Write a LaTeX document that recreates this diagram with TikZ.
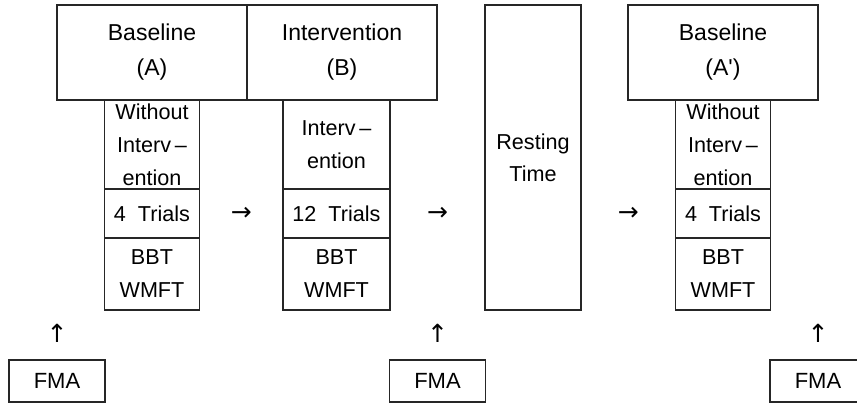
\documentclass[tikz,border=0pt]{standalone}
\usepackage{fontspec}
\setmainfont{Liberation Sans}
\newfontfamily\arrowfont{DejaVu Sans}
\usetikzlibrary{positioning,calc}

\begin{document}
\begin{tikzpicture}[
  x=0.5pt, y=-0.5pt,
  node distance=0pt,
  box/.style={draw=black!85, line width=0.65pt, inner sep=0pt,
    outer sep=0pt, align=center},
  head/.style={box, minimum width=95pt, minimum height=47.5pt,
    font=\fontsize{11.5}{17.5}\selectfont},
  cell/.style={box, minimum width=47.5pt,
    font=\fontsize{10.8}{16.5}\selectfont},
  fma/.style={box, minimum width=48pt, minimum height=21pt,
    font=\fontsize{11}{13}\selectfont},
  glyph/.style={inner sep=0pt, font=\arrowfont\fontsize{12.5}{14}\selectfont}
]
\useasboundingbox (0,0) rectangle (857,403);

% phases
\node[head] (baseA) at (152,52.5) {Baseline\\(A)};
\node[head, right=of baseA] (intB) {Intervention\\(B)};
\node[box, minimum width=48pt, minimum height=152.5pt,
  font=\fontsize{10.8}{16}\selectfont] (rest) at (533,157.5) {Resting\\Time};
\node[head] (baseC) at (723,52.5) {Baseline\\(A\textquotesingle)};

% columns under the phases
\node[cell, minimum height=44.5pt, below=of baseA] (woA) {Without\\Interv\,–\\ention};
\node[cell, minimum height=24.5pt, below=of woA] (trA) {4\ \ Trials};
\node[cell, minimum height=36pt, below=of trA] (tsA) {BBT\\WMFT};

\node[cell, minimum width=53.5pt, minimum height=44.5pt,
  below=of intB, xshift=-2.75pt] (inB) {Interv\,–\\ention};
\node[cell, minimum width=53.5pt, minimum height=24.5pt, below=of inB] (trB) {12\ \ Trials};
\node[cell, minimum width=53.5pt, minimum height=36pt, below=of trB] (tsB) {BBT\\WMFT};

\node[cell, minimum height=44.5pt, below=of baseC] (woC) {Without\\Interv\,–\\ention};
\node[cell, minimum height=24.5pt, below=of woC] (trC) {4\ \ Trials};
\node[cell, minimum height=36pt, below=of trC] (tsC) {BBT\\WMFT};

% arrows between phases
\node[glyph] (toB) at ($(trA.east)!0.5!(trB.west)$) {→};
\node[glyph] (toR) at ($(trB.east)!0.5!(rest.west|-trB.west)$) {→};
\node[glyph] (toC) at ($(rest.east|-trC.west)!0.5!(trC.west)$) {→};

% assessments
\node[fma] (fmaA) at (57,381) {FMA};
\node[fma] (fmaB) at (437.5,381) {FMA};
\node[fma] (fmaC) at (818,381) {FMA};
\node[glyph] (upA) at (57,333) {↑};
\node[glyph] (upB) at (437.5,333) {↑};
\node[glyph] (upC) at (818,333) {↑};
\end{tikzpicture}
\end{document}
